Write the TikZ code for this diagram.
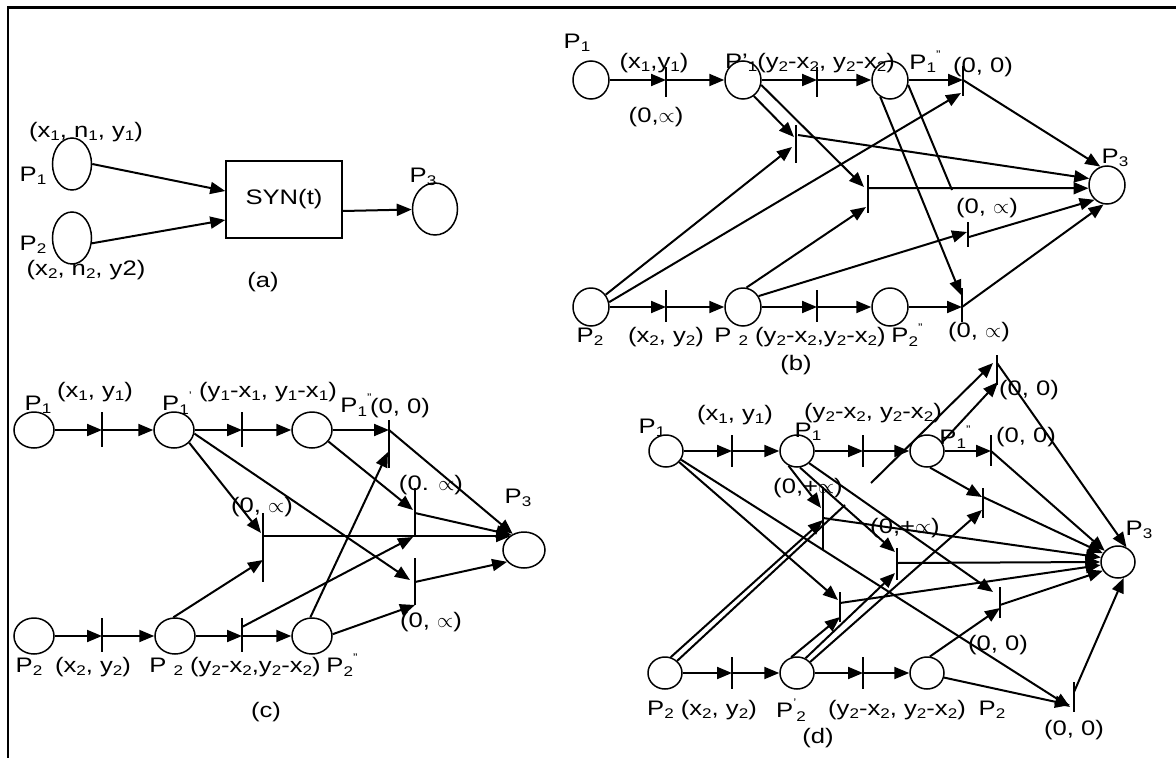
\documentclass[tikz,border=0pt]{standalone}
\usepackage{fontspec}
\setmainfont{Liberation Sans}[FakeStretch=1.22]
\usetikzlibrary{arrows.meta,shapes.geometric,calc}
\newcommand\lbl{\fontsize{21}{24}\selectfont}
\newcommand\lo[1]{\raisebox{-0.3ex}{\fontsize{14}{14}\selectfont #1}}
\newcommand\hi[1]{\raisebox{1.0ex}{\fontsize{11}{11}\selectfont #1}}
\newcommand\pr{$\propto$}
\newcommand\trbar[5]{\coordinate (#1) at (#2,#3); \draw[barln] (#2,#4) -- (#2,#5);}
\tikzset{
 arr/.style={line width=2pt, -{Triangle[length=15pt,width=12pt]}},
 ln/.style={line width=2pt},
 barln/.style={line width=1.6pt},
 pl/.style={ellipse, draw, line width=1.5pt, inner sep=0pt},
 lab/.style={font=\lbl, inner sep=0pt},
}
\begin{document}
\begin{tikzpicture}[x=1pt,y=-1pt]
\useasboundingbox (0,0) rectangle (1176,758);
\draw[line width=2.5pt] (8,758) -- (8,7.5) -- (1176,7.5);

% ---------------- (a)
\node[pl,minimum width=39pt,minimum height=52pt] (aP1) at (72,164) {};
\node[pl,minimum width=39pt,minimum height=52pt] (aP2) at (72,238) {};
\node[draw,line width=1.5pt,minimum width=116pt,minimum height=77pt,inner sep=0pt,font=\lbl] (aSyn) at (284,199.5) {SYN(t)};
\node[pl,minimum width=45pt,minimum height=52pt] (aP3) at (435,209) {};
\draw[arr] (aP1.east) -- ($(aSyn.west)+(0,-8.5)$);
\draw[arr] (aP2.-15) -- ($(aSyn.west)+(0,20.5)$);
\draw[arr] ($(aSyn.east)+(0,11.5)$) -- (aP3);
\node[lab] (aL1) at (86,132) {(x\lo{1}, n\lo{1}, y\lo{1})};
\node[lab] (aL2) at (33,176) {P\lo{1}};
\node[lab] (aL3) at (33,245) {P\lo{2}};
\node[lab] (aL4) at (86,270) {(x\lo{2}, n\lo{2}, y2)};
\node[lab] (aL5) at (423,177) {P\lo{3}};
\node[lab] (aL6) at (263,282) {(a)};

% ---------------- (b)
\foreach \n/\x/\y in {bP1/591/80, bP1a/743/80, bP1b/890/80, bP2/591/307, bP2a/743/307, bP2b/890/307}
  \node[pl,minimum width=36pt,minimum height=38pt] (\n) at (\x,\y) {};
\node[pl,minimum width=36pt,minimum height=38pt] (bP3) at (1107,185) {};
\trbar{bt1}{666}{80}{67}{97}
\trbar{bt2}{817}{80}{67}{97}
\trbar{bt3}{963}{80}{66}{96}
\trbar{bt1b}{666}{307}{290}{322}
\trbar{bt2b}{817}{307}{290}{322}
\trbar{bt7}{962}{307}{288}{322}
\trbar{bt4}{796}{140}{125}{163}
\trbar{bt5}{868}{188}{175}{213}
\trbar{bt6}{968}{235}{222}{247}
\coordinate (bfree) at (952,190);
\draw[arr] (bP1) -- (bt1); \draw[arr] (bt1) -- (bP1a);
\draw[arr] (bP1a) -- (bt2); \draw[arr] (bt2) -- (bP1b);
\draw[arr] (bP1b) -- (bt3);
\draw[arr] (bP2) -- (bt1b); \draw[arr] (bt1b) -- (bP2a);
\draw[arr] (bP2a) -- (bt2b); \draw[arr] (bt2b) -- (bP2b);
\draw[arr] (bP2b) -- (bt7);
\draw[arr] (bP1a.-56) -- ($(bt4)+(-2,-3)$);
\draw[arr] (bP1a.-15) -- ($(bt5)+(-4,-1)$);
\draw[ln] (bP1b.-15) -- (bfree);
\draw[arr] (bP1b.-120) -- ($(bt7)+(-1,-12)$);
\draw[arr] (bP2.40) -- ($(bt4)+(-4,7)$);
\draw[arr] (bP2.15) -- ($(bt3)+(-2,13)$);
\draw[arr] (bP2a.80) -- ($(bt5)+(-2,19)$);
\draw[arr] (bP2a.35) -- ($(bt6)+(-1,-3)$);
\draw[arr] (bt3) -- (bP3.110);
\draw[arr] ($(bt4)+(2,-5)$) -- (bP3.160);
\draw[arr] (bt5) -- (bP3.190);
\draw[arr] ($(bt6)+(1,2)$) -- (bP3.-130);
\draw[arr] (bt7) -- (bP3.-100);
\node[lab] (bL1) at (577,43) {P\lo{1}};
\node[lab] (bL2) at (654,63) {(x\lo{1},y\lo{1})};
\node[lab] (bL3) at (810,63) {P'\lo{1}(y\lo{2}-x\lo{2}, y\lo{2}-x\lo{2})};
\node[lab] (bL4) at (925,62) {P\lo{1}\hi{''}};
\node[lab] (bL5) at (983,67) {(0, 0)};
\node[lab] (bL6) at (656,117) {(0,\pr)};
\node[lab] (bL7) at (1115,158) {P\lo{3}};
\node[lab] (bL8) at (987,208) {(0, \pr)};
\node[lab] (bL9) at (590,337) {P\lo{2}};
\node[lab] (bL10) at (666,337) {(x\lo{2}, y\lo{2})};
\node[lab] (bL11) at (800,337) {P \lo{2} (y\lo{2}-x\lo{2},y\lo{2}-x\lo{2})};
\node[lab] (bL12) at (907,335) {P\lo{2}\hi{''}};
\node[lab] (bL13) at (979,332) {(0, \pr)};
\node[lab] (bL14) at (796,365) {(b)};

% ---------------- (c)
\foreach \n/\x/\y in {cP1/34/430, cP1a/174/430, cP1b/312/430, cP2/34/636, cP2a/175/636, cP2b/312/636}
  \node[pl,minimum width=40pt,minimum height=36pt] (\n) at (\x,\y) {};
\node[pl,minimum width=42pt,minimum height=36pt] (cP3) at (524,550) {};
\trbar{ct1}{102}{430}{412}{447}
\trbar{ct2}{242}{430}{412}{447}
\trbar{ct3}{389}{430}{420}{468}
\trbar{ct1b}{102}{636}{618}{652}
\trbar{ct2b}{242}{636}{618}{652}
\trbar{ct4}{263}{536}{513}{582}
\trbar{ct5}{415}{513}{488}{537}
\trbar{ct6}{415}{582}{558}{605}
\draw[arr] (cP1) -- (ct1); \draw[arr] (ct1) -- (cP1a);
\draw[arr] (cP1a) -- (ct2); \draw[arr] (ct2) -- (cP1b);
\draw[arr] (cP1b) -- (ct3);
\draw[arr] (cP2) -- (ct1b); \draw[arr] (ct1b) -- (cP2a);
\draw[arr] (cP2a) -- (ct2b); \draw[arr] (ct2b) -- (cP2b);
\draw[arr] (ct3) -- (cP3.125);
\draw[arr] (cP2b.95) -- ($(ct3)+(-1,22)$);
\draw[arr] (cP1a.-40) -- ($(ct4)+(-2,-3)$);
\draw[arr] (cP2a.95) -- ($(ct4)+(0,24)$);
\draw[arr] (ct4) -- ($(cP3.center)+(-13,-14)$);
\draw[arr] (cP1b.-35) -- ($(ct5)+(-2,-3)$);
\draw[arr] (ct5) -- (cP3.130);
\draw[arr] ($(ct2b)+(0,-9)$) -- ($(ct5)+(-2,24)$);
\draw[arr] (cP1a.-10) -- ($(ct6)+(-5,-2)$);
\draw[arr] (cP2b.5) -- ($(ct6)+(0,23)$);
\draw[arr] (ct6) -- (cP3.-145);
\node[lab] (cL1) at (38,405) {P\lo{1}};
\node[lab] (cL2) at (95,392) {(x\lo{1}, y\lo{1})};
\node[lab] (cL3) at (177,403) {P\lo{1}\hi{'}};
\node[lab] (cL4) at (268,392) {(y\lo{1}-x\lo{1}, y\lo{1}-x\lo{1})};
\node[lab] (cL5) at (356,405) {P\lo{1}\hi{''}};
\node[lab] (cL6) at (400,408) {(0, 0)};
\node[lab] (cL7) at (262,507) {(0, \pr)};
\node[lab] (cL8) at (431,485) {(0. \pr)};
\node[lab] (cL9) at (518,498) {P\lo{3}};
\node[lab] (cL10) at (431,622) {(0, \pr)};
\node[lab] (cL11) at (29,667) {P\lo{2}};
\node[lab] (cL12) at (93,667) {(x\lo{2}, y\lo{2})};
\node[lab] (cL13) at (235,667) {P \lo{2} (y\lo{2}-x\lo{2},y\lo{2}-x\lo{2})};
\node[lab] (cL14) at (342,665) {P\lo{2}\hi{''}};
\node[lab] (cL15) at (266,712) {(c)};

% ---------------- (d)
\foreach \n/\x/\y in {dP1/666/451, dP1a/797/451, dP1b/927/451, dP2/665/673, dP2a/797/673, dP2b/927/673}
  \node[pl,minimum width=34pt,minimum height=32pt] (\n) at (\x,\y) {};
\node[pl,minimum width=34pt,minimum height=32pt] (dP3) at (1118,562) {};
\trbar{dt1}{732}{451}{435}{467}
\trbar{dt2}{863}{451}{435}{467}
\trbar{dt3}{991}{451}{435}{466}
\trbar{dt1b}{732}{673}{657}{689}
\trbar{dt2b}{863}{673}{657}{689}
\trbar{dtg}{997}{370}{355}{385}
\trbar{dta}{823}{518}{487}{550}
\trbar{dtb}{897}{563}{548}{580}
\trbar{dtc}{840}{603}{592}{622}
\trbar{dtd}{1000}{605}{587}{618}
\trbar{dte}{983}{497}{488}{518}
\trbar{dtf}{1074}{695}{682}{712}
\coordinate (dfree) at (871,483);
\draw[arr] (dP1) -- (dt1); \draw[arr] (dt1) -- (dP1a);
\draw[arr] (dP1a) -- (dt2); \draw[arr] (dt2) -- (dP1b);
\draw[arr] (dP1b) -- (dt3);
\draw[arr] (dP2) -- (dt1b); \draw[arr] (dt1b) -- (dP2a);
\draw[arr] (dP2a) -- (dt2b); \draw[arr] (dt2b) -- (dP2b);
\draw[arr] (dt3) -- (dP3.140);
\draw[arr] (dfree) -- ($(dtg)+(-4,-7)$);
\draw[arr] (dP1b.30) -- ($(dtg)+(1,12)$);
\draw[arr] ($(dtg)+(0,-7)$) -- (dP3.60);
\draw[arr] (dP1a.-120) -- ($(dta)+(-2,-10)$);
\draw[arr] (dP2.70) -- ($(dta)+(0,2)$);
\draw[ln] (dP2.45) -- ($(dta)+(22,-13)$);
\draw[arr] (dta) -- (dP3.165);
\draw[arr] (dP1a.-80) -- ($(dtb)+(-2,-11)$);
\draw[arr] (dP2a.60) -- ($(dtb)+(-2,10)$);
\draw[arr] (dtb) -- (dP3.180);
\draw[arr] (dP1.-40) -- ($(dtc)+(-2,-3)$);
\draw[arr] (dP2a.110) -- ($(dtc)+(0,14)$);
\draw[arr] (dtc) -- (dP3.190);
\draw[arr] (dP1a.-45) -- ($(dtd)+(-7,-13)$);
\draw[arr] (dP2b.80) -- ($(dtd)+(0,3)$);
\draw[arr] (dtd) -- (dP3.-150);
\draw[arr] (dP1b.-80) -- ($(dte)+(-1,0)$);
\draw[arr] (dP2a.40) -- ($(dte)+(-1,13)$);
\draw[arr] (dte) -- (dP3.150);
\draw[arr] (dP1.-30) -- ($(dtf)+(-4,12)$);
\draw[arr] (dP2b.-15) -- ($(dtf)+(-4,10)$);
\draw[arr] ($(dtf)+(0,-3)$) -- (dP3.-70);
\node[lab] (dL1) at (652,428) {P\lo{1}};
\node[lab] (dL2) at (735,415) {(x\lo{1}, y\lo{1})};
\node[lab] (dL3) at (873,413) {(y\lo{2}-x\lo{2}, y\lo{2}-x\lo{2})};
\node[lab] (dL4) at (808,432) {P\lo{1}};
\node[lab] (dL5) at (955,437) {P\lo{1}\hi{''}};
\node[lab] (dL6) at (1026,437) {(0, 0)};
\node[lab] (dL7) at (1029,390) {(0, 0)};
\node[lab] (dL8) at (808,488) {(0,+\pr)};
\node[lab] (dL9) at (905,528) {(0,+\pr)};
\node[lab] (dL10) at (1139,530) {P\lo{3}};
\node[lab] (dL11) at (998,645) {(0, 0)};
\node[lab] (dL12) at (1074,730) {(0, 0)};
\node[lab] (dL13) at (702,710) {P\lo{2} (x\lo{2}, y\lo{2})};
\node[lab] (dL14) at (791,710) {P\hi{'}\lo{2}};
\node[lab] (dL15) at (897,710) {(y\lo{2}-x\lo{2}, y\lo{2}-x\lo{2})};
\node[lab] (dL16) at (992,710) {P\lo{2}};
\node[lab] (dL17) at (818,738) {(d)};
\end{tikzpicture}
\end{document}
